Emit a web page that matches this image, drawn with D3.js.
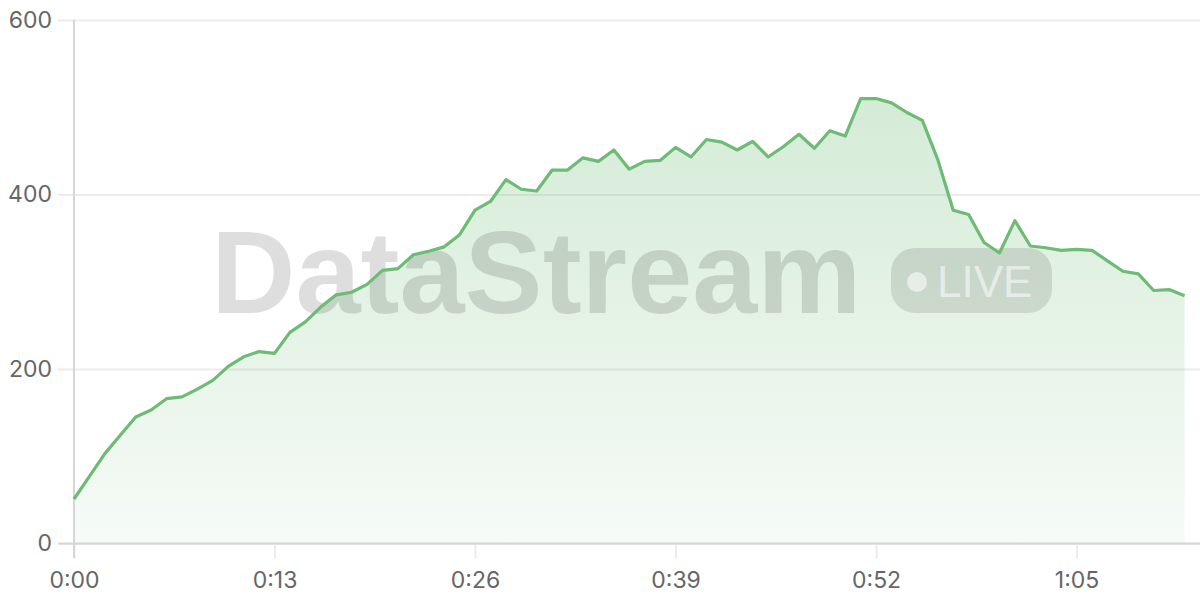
<!DOCTYPE html>
<html><head><meta charset="utf-8">
<script src="https://cdn.jsdelivr.net/npm/d3@7"></script>
<style>html,body{margin:0;padding:0;background:#fff;}svg{display:block;}</style>
</head><body>
<svg id="chart" width="1200" height="600"></svg>
<script>
const seconds = d3.range(0, 73);
const values = [51,77,103,124,145,153,166,168,177,187,203,214,220,218,242,254,271,285,288,297,313,315,331,335,340,354,382,392,417,406,404,428,428,442,438,451,429,438,439,454,443,463,460,451,461,443,455,469,453,473,467,510,510,505,494,485,440,382,377,345,333,370,341,339,336,337,336,324,312,309,290,291,284];
const yTicks = [0, 200, 400, 600];
const xTicks = [0, 13, 26, 39, 52, 65];
const xTickLabels = ["0:00","0:13","0:26","0:39","0:52","1:05"];
const watermarkText = "DataStream";
const badgeText = "LIVE";

const svg = d3.select("#chart");
const x = d3.scaleLinear().domain([0, 73]).range([74, 1200]);
const y = d3.scaleLinear().domain([0, 600]).range([543.5, 20]);
const font = "Inter, 'Open Sans', sans-serif";

const defs = svg.append("defs");
const grad = defs.append("linearGradient").attr("id","ag")
  .attr("gradientUnits","userSpaceOnUse").attr("x1",0).attr("x2",0).attr("y1",y(520)).attr("y2",y(0));
grad.append("stop").attr("offset","0%").attr("stop-color","#6dbb75").attr("stop-opacity",0.3);
grad.append("stop").attr("offset","100%").attr("stop-color","#6dbb75").attr("stop-opacity",0.06);

// horizontal grid
const gy = svg.append("g").attr("transform","translate(74,0)")
  .call(d3.axisLeft(y).tickValues(yTicks).tickSize(-1126).tickSizeOuter(0).tickPadding(6).tickFormat(d3.format("d")));
gy.select(".domain").remove();
gy.selectAll(".tick line").attr("stroke","#ececec").attr("stroke-width",2).attr("x1",-16);
gy.selectAll(".tick text").attr("font-family",font).attr("font-size",23).attr("fill","#666").attr("x",-22);

// vertical grid
const gx = svg.append("g").attr("transform","translate(0,543.5)")
  .call(d3.axisBottom(x).tickValues(xTicks).tickSize(-523.5).tickSizeOuter(0).tickPadding(0)
    .tickFormat((d,i)=>xTickLabels[i]));
gx.select(".domain").remove();
gx.selectAll(".tick line").attr("stroke","#ececec").attr("stroke-width",2).attr("y2",15);
gx.selectAll(".tick text").attr("font-family",font).attr("font-size",23).attr("fill","#666").attr("y",28).attr("dy","0.71em");

// area
const area = d3.area().x((d,i)=>x(seconds[i])).y0(y(0)).y1(d=>y(d));
svg.append("path").datum(values).attr("d",area).attr("fill","url(#ag)");

// axis lines
svg.append("line").attr("x1",74).attr("x2",74).attr("y1",y(600)).attr("y2",558).attr("stroke","#d6d6d6").attr("stroke-width",2);
svg.append("line").attr("x1",58).attr("x2",1200).attr("y1",y(0)).attr("y2",y(0)).attr("stroke","#d3d6d3").attr("stroke-width",2);

// watermark
const wm = svg.append("g");
wm.append("text").attr("x",211).attr("y",313).attr("font-family","'Liberation Sans', Arial, sans-serif").attr("font-weight","bold")
  .attr("font-size",117).attr("fill","rgba(0,0,0,0.13)").text(watermarkText);
wm.append("rect").attr("x",891).attr("y",248).attr("width",161).attr("height",65).attr("rx",24).attr("fill","rgba(0,0,0,0.11)");
wm.append("circle").attr("cx",917).attr("cy",282).attr("r",10).attr("fill","rgba(255,255,255,0.55)");
wm.append("text").attr("x",937).attr("y",297).attr("font-family","'Liberation Sans', Arial, sans-serif").attr("font-size",44)
  .attr("fill","rgba(255,255,255,0.55)").text(badgeText);

// line
const line = d3.line().x((d,i)=>x(seconds[i])).y(d=>y(d));
svg.append("path").datum(values).attr("d",line).attr("fill","none").attr("stroke","#6dbb75").attr("stroke-width",3.2).attr("stroke-linejoin","round");
</script>
</body></html>
